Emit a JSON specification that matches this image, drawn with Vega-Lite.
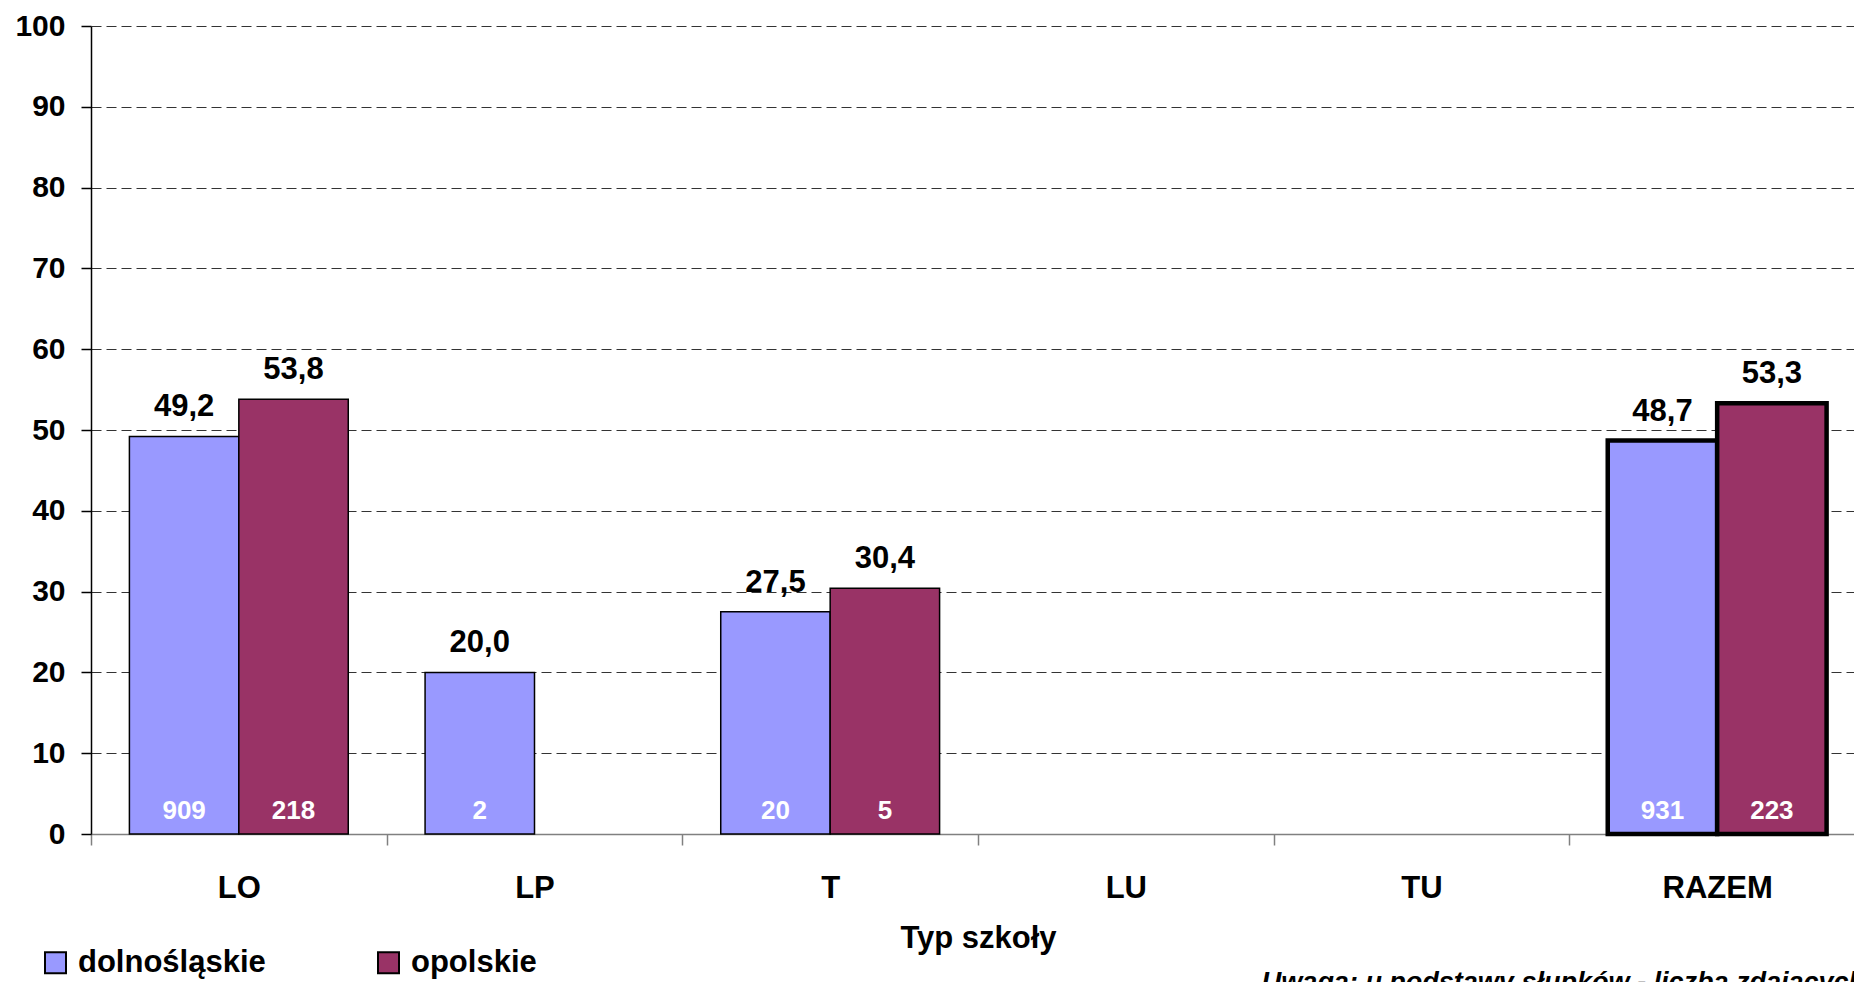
{
  "$schema": "https://vega.github.io/schema/vega-lite/v6.json",
  "width": 1774,
  "height": 808,
  "autosize": {"type": "none"},
  "padding": {"left": 91, "top": 26, "right": 0, "bottom": 148},
  "background": "white",
  "config": {
    "font": "Liberation Sans",
    "view": {"stroke": null},
    "locale": {"number": {"decimal": ",", "thousands": "\u00a0", "grouping": [3], "currency": ["", " zł"]}}
  },
  "title": {
    "text": "Uwaga: u podstawy słupków - liczba zdających",
    "orient": "bottom",
    "anchor": "end",
    "frame": "group",
    "fontSize": 27,
    "fontStyle": "italic",
    "fontWeight": "bold",
    "color": "black",
    "offset": -8
  },
  "data": {
    "values": [
      {"typ": "LO", "woj": "dolnośląskie", "wynik": 49.2, "n": 909},
      {"typ": "LO", "woj": "opolskie", "wynik": 53.8, "n": 218},
      {"typ": "LP", "woj": "dolnośląskie", "wynik": 20.0, "n": 2},
      {"typ": "T", "woj": "dolnośląskie", "wynik": 27.5, "n": 20},
      {"typ": "T", "woj": "opolskie", "wynik": 30.4, "n": 5},
      {"typ": "RAZEM", "woj": "dolnośląskie", "wynik": 48.7, "n": 931},
      {"typ": "RAZEM", "woj": "opolskie", "wynik": 53.3, "n": 223}
    ]
  },
  "encoding": {
    "x": {
      "field": "typ",
      "type": "nominal",
      "sort": null,
      "scale": {"domain": ["LO", "LP", "T", "LU", "TU", "RAZEM"], "paddingInner": 0, "paddingOuter": 0},
      "axis": {
        "title": "Typ szkoły",
        "titleFontSize": 31,
        "titleFontWeight": "bold",
        "titleColor": "black",
        "titlePadding": 20,
        "labelFontSize": 31,
        "labelFontWeight": "bold",
        "labelColor": "black",
        "labelAngle": 0,
        "labelPadding": 28,
        "tickBand": "extent",
        "tickSize": 11,
        "tickColor": "#808080",
        "tickWidth": 1.5,
        "domainColor": "#808080",
        "domainWidth": 1.5
      }
    },
    "xOffset": {
      "field": "woj",
      "type": "nominal",
      "scale": {"domain": ["dolnośląskie", "opolskie"], "paddingOuter": 0.351, "paddingInner": 0}
    }
  },
  "layer": [
    {
      "mark": {"type": "bar", "stroke": "black"},
      "encoding": {
        "y": {
          "field": "wynik",
          "type": "quantitative",
          "scale": {"domain": [0, 100], "nice": false},
          "axis": {
            "title": null,
            "values": [0, 10, 20, 30, 40, 50, 60, 70, 80, 90, 100],
            "labelFontSize": 30,
            "labelFontWeight": "bold",
            "labelColor": "black",
            "labelPadding": 16,
            "tickSize": 10,
            "tickColor": "black",
            "tickWidth": 1.5,
            "domainColor": "black",
            "domainWidth": 1.5,
            "grid": true,
            "gridDash": [10, 5],
            "gridColor": "#333333",
            "gridWidth": 1
          }
        },
        "color": {
          "field": "woj",
          "type": "nominal",
          "scale": {"domain": ["dolnośląskie", "opolskie"], "range": ["#9999FF", "#993366"]},
          "legend": {
            "title": null,
            "orient": "none",
            "legendX": -51,
            "legendY": 921,
            "direction": "horizontal",
            "symbolType": "square",
            "symbolSize": 441,
            "symbolStrokeColor": "black",
            "symbolStrokeWidth": 2,
            "symbolOpacity": 1,
            "labelFontSize": 31,
            "labelFontWeight": "bold",
            "labelColor": "black",
            "labelOffset": 7,
            "columnPadding": 107,
            "padding": 0,
            "labelLimit": 0
          }
        },
        "strokeWidth": {"condition": {"test": "datum.typ === 'RAZEM'", "value": 4.5}, "value": 1.5}
      }
    },
    {
      "mark": {"type": "text", "fontSize": 31, "fontWeight": "bold", "color": "black", "baseline": "alphabetic", "dy": -20},
      "encoding": {
        "y": {"field": "wynik", "type": "quantitative"},
        "text": {"field": "wynik", "type": "quantitative", "format": ".1f"}
      }
    },
    {
      "mark": {"type": "text", "fontSize": 26, "fontWeight": "bold", "color": "white", "baseline": "alphabetic", "dy": -15},
      "encoding": {
        "y": {"datum": 0},
        "text": {"field": "n", "type": "quantitative"}
      }
    }
  ]
}
